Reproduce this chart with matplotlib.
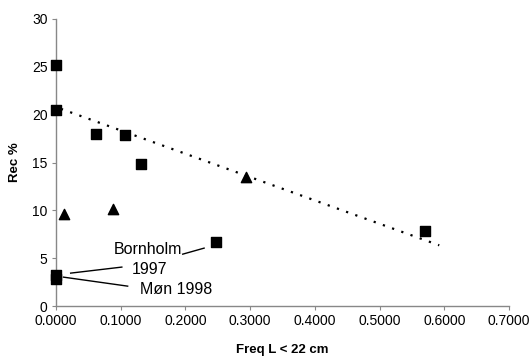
import matplotlib.pyplot as plt
import numpy as np

plt.rcParams['font.family'] = ['Liberation Sans', 'DejaVu Sans']

# squares
sq_x = [0.0, 0.0, 0.062, 0.107, 0.131, 0.247, 0.570, 0.0, 0.0]
sq_y = [25.2, 20.5, 18.0, 17.9, 14.8, 6.7, 7.8, 3.3, 2.8]
# triangles
tri_x = [0.012, 0.088, 0.294]
tri_y = [9.6, 10.1, 13.5]

# trend line (dotted)
trend_x = [0.008, 0.592]
trend_slope = -24.4
trend_icpt = 20.8

fig = plt.figure(figsize=(5.31, 3.56), dpi=100)
ax = fig.add_axes([0.105, 0.140, 0.854, 0.807])

tx = np.array(trend_x)
ax.plot(tx, trend_icpt + trend_slope * tx, color='black', lw=1.6,
        linestyle=(0, (1, 3.4)), zorder=2)
ax.scatter(sq_x, sq_y, marker='s', s=52, color='black', zorder=3, clip_on=False)
ax.scatter(tri_x, tri_y, marker='^', s=55, color='black', zorder=3, clip_on=False)

# annotations
ax.text(0.142, 5.95, 'Bornholm', fontsize=11.5, ha='center', va='center')
ax.plot([0.196, 0.229], [5.43, 6.06], color='black', lw=1.0)
ax.text(0.1445, 3.87, '1997', fontsize=11.5, ha='center', va='center')
ax.plot([0.023, 0.102], [3.45, 4.08], color='black', lw=1.0)
ax.text(0.186, 1.78, 'Møn 1998', fontsize=11.5, ha='center', va='center')
ax.plot([0.012, 0.111], [3.03, 2.09], color='black', lw=1.0)

ax.set_xlim(0, 0.7)
ax.set_ylim(0, 30)
ax.set_xticks(np.arange(0, 0.71, 0.1))
ax.set_xticklabels([f'{v:.4f}' for v in np.arange(0, 0.71, 0.1)])
ax.set_yticks(range(0, 31, 5))

for s in ['top', 'right']:
    ax.spines[s].set_visible(False)
for s in ['left', 'bottom']:
    ax.spines[s].set_color('#888888')
    ax.spines[s].set_linewidth(1.0)
ax.tick_params(axis='both', labelsize=10, length=3, color='#888888', pad=3)

ax.set_xlabel('Freq L < 22 cm', fontsize=9.5, fontweight='bold', labelpad=11)
ax.set_ylabel('Rec %', fontsize=9.5, fontweight='bold', labelpad=8)

fig.savefig('out.png', dpi=100)
